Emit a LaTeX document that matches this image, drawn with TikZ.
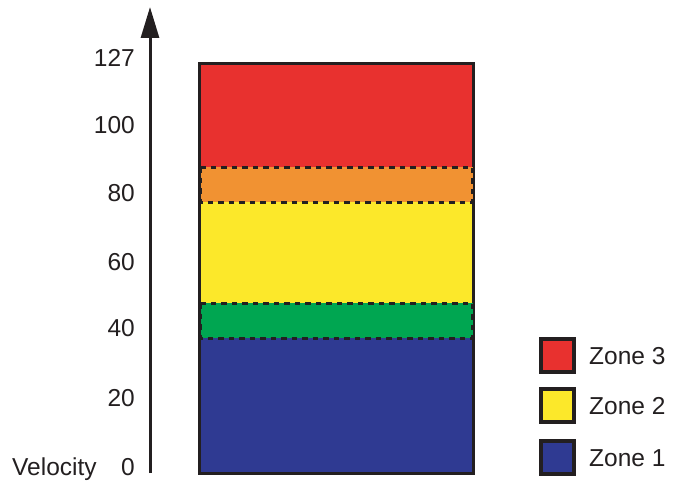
\documentclass[tikz,border=0pt]{standalone}
\usepackage{fontspec}
\setmainfont{Liberation Sans}
\usetikzlibrary{arrows.meta}
\definecolor{zred}{RGB}{232,49,47}
\definecolor{zorange}{RGB}{241,146,50}
\definecolor{zyellow}{RGB}{252,232,42}
\definecolor{zgreen}{RGB}{0,166,81}
\definecolor{zblue}{RGB}{47,58,146}
\definecolor{ink}{RGB}{35,31,32}
\tikzset{
  lbl/.style={font=\fontsize{24.5}{29}\selectfont, text=ink, inner sep=0pt},
  band/.style={draw=ink, line width=3pt, dash pattern=on 5.5pt off 5pt},
  legbox/.style={draw=ink, line width=4pt, minimum size=33pt, inner sep=0pt}
}
\begin{document}
\begin{tikzpicture}[x=1pt,y=-1pt]
\useasboundingbox (0,0) rectangle (676,487);
% axis
\coordinate (ax0) at (150,473);
\coordinate (ax1) at (150,7);
\draw[ink, line width=3pt, -{Triangle[length=31pt,width=18pt]}] (ax0) -- (ax1);
% tick labels
\node[lbl, anchor=base east] (l127) at (135,66) {127};
\node[lbl, anchor=base east] (l100) at (135,133) {100};
\node[lbl, anchor=base east] (l80) at (135,201) {80};
\node[lbl, anchor=base east] (l60) at (135,270) {60};
\node[lbl, anchor=base east] (l40) at (135,336) {40};
\node[lbl, anchor=base east] (l20) at (135,406) {20};
\node[lbl, anchor=base east] (l0) at (135,475) {0};
\node[lbl, anchor=base west] (vel) at (12,475) {Velocity};
% zones
\fill[zred] (199.5,63.5) rectangle (473.5,167);
\fill[zyellow] (199.5,202) rectangle (473.5,303);
\fill[zblue] (199.5,338) rectangle (473.5,473.5);
\draw[ink, line width=3pt] (199.5,63.5) rectangle (473.5,473.5);
\filldraw[fill=zorange, band] (200.5,167) rectangle (472.5,202);
\filldraw[fill=zgreen, band] (200.5,303) rectangle (472.5,338);
% legend
\node[legbox, fill=zred] (k3) at (557.5,355) {};
\node[legbox, fill=zyellow] (k2) at (557.5,405.5) {};
\node[legbox, fill=zblue] (k1) at (557.5,457) {};
\node[lbl, anchor=base west] (t3) at (589,364) {Zone 3};
\node[lbl, anchor=base west] (t2) at (589,414.5) {Zone 2};
\node[lbl, anchor=base west] (t1) at (589,466) {Zone 1};
\end{tikzpicture}
\end{document}
